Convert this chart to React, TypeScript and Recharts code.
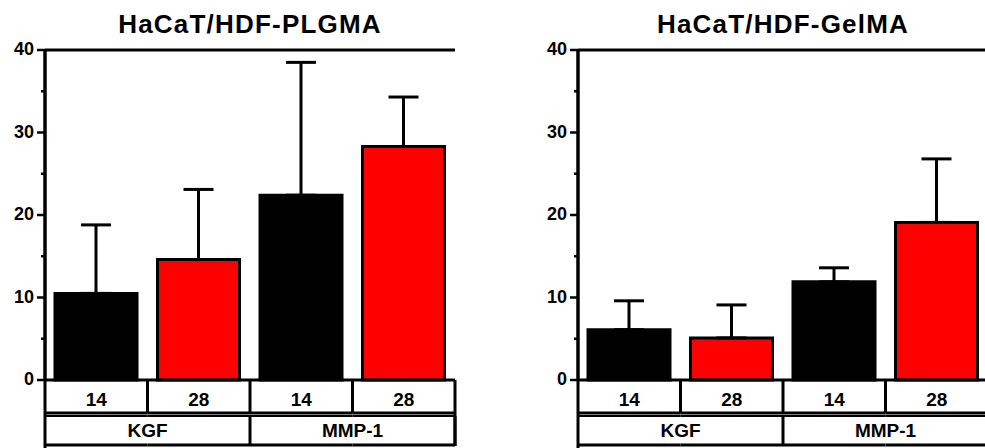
import { Bar, BarChart, Cell, ErrorBar, ReferenceLine, XAxis, YAxis } from "recharts";

const days = ["14", "28", "14", "28"];
const groups = ["KGF", "KGF", "MMP-1", "MMP-1"];
const barColors = ["#000000", "#ff0000", "#000000", "#ff0000"];

const plgmaMean = [10.5, 14.6, 22.4, 28.3];
const plgmaSd = [8.3, 8.5, 16.1, 6.0];
const gelmaMean = [6.1, 5.1, 11.9, 19.1];
const gelmaSd = [3.5, 4.0, 1.7, 7.7];

const yTicks = [0, 5, 10, 15, 20, 25, 30, 35, 40];

const FONT = '"Liberation Sans", Arial, sans-serif';
const CHART_W = 470;
const CHART_H = 448;
const AXIS_W = 45;
const RIGHT_M = 15;
const PLOT_W = CHART_W - AXIS_W - RIGHT_M;
const BAND = PLOT_W / days.length;

function buildRows(mean: number[], sd: number[]) {
  return days.map((d, i) => ({ day: d, group: groups[i], value: mean[i], err: [0, sd[i]] }));
}

function YTick({ x, y, payload }: any) {
  const major = payload.value % 10 === 0;
  return (
    <g>
      <line x1={x - (major ? 8 : 4)} x2={x} y1={y} y2={y} stroke="#000" strokeWidth={2.5} />
      {major && (
        <text x={x - 11} y={y + 5} textAnchor="end" fontFamily={FONT} fontWeight="bold" fontSize={18} fill="#000">
          {payload.value}
        </text>
      )}
    </g>
  );
}

function XTick({ x, y, payload, index }: any) {
  const left = x - BAND / 2;
  const right = x + BAND / 2;
  const last = index === days.length - 1;
  const groupStart = index === 0 || groups[index] !== groups[index - 1];
  const groupEnd = last || groups[index] !== groups[index + 1];
  const sw = 3;
  return (
    <g>
      <text x={x} y={y + 26} textAnchor="middle" fontFamily={FONT} fontWeight="bold" fontSize={19} fill="#000">
        {payload.value}
      </text>
      <line x1={left} x2={right} y1={y + 33} y2={y + 33} stroke="#000" strokeWidth={sw} />
      <line x1={left} x2={right} y1={y + 36} y2={y + 36} stroke="#000" strokeWidth={2} />
      <line x1={left} x2={right} y1={y + 65} y2={y + 65} stroke="#000" strokeWidth={sw} />
      {!last && <line x1={right} x2={right} y1={y} y2={y + 33} stroke="#000" strokeWidth={sw} />}
      {index === 0 && <line x1={left} x2={left} y1={y} y2={y + 68} stroke="#000" strokeWidth={sw} />}
      {groupEnd && <line x1={right} x2={right} y1={y + 36} y2={y + 66} stroke="#000" strokeWidth={sw} />}
      {last && <line x1={right} x2={right} y1={y} y2={y + 66} stroke="#000" strokeWidth={sw} />}
      {groupStart && (
        <text x={right} y={y + 57} textAnchor="middle" fontFamily={FONT} fontWeight="bold" fontSize={19} fill="#000">
          {groups[index]}
        </text>
      )}
    </g>
  );
}

function Panel({ title, mean, sd, left }: { title: string; mean: number[]; sd: number[]; left: number }) {
  const data = buildRows(mean, sd);
  return (
    <div style={{ position: "absolute", left, top: 0, width: CHART_W, height: CHART_H }}>
      <div
        style={{
          position: "absolute",
          left: AXIS_W,
          width: PLOT_W,
          top: 11,
          textAlign: "center",
          fontFamily: FONT,
          fontWeight: "bold",
          fontSize: 26,
          lineHeight: "26px",
          letterSpacing: 1.2,
        }}
      >
        {title}
      </div>
      <BarChart width={CHART_W} height={CHART_H} data={data} margin={{ top: 50, right: RIGHT_M, bottom: 0, left: 0 }} barSize={82}>
        <XAxis
          dataKey="day"
          height={68}
          tickSize={0}
          tickMargin={0}
          interval={0}
          axisLine={{ stroke: "#000", strokeWidth: 3 }}
          tick={<XTick />}
        />
        <YAxis
          type="number"
          domain={[0, 40]}
          ticks={yTicks}
          interval={0}
          width={AXIS_W}
          tickSize={0}
          tickMargin={0}
          axisLine={{ stroke: "#000", strokeWidth: 3.5 }}
          tick={<YTick />}
        />
        <YAxis
          yAxisId="r"
          orientation="right"
          type="number"
          domain={[0, 40]}
          width={0}
          tick={false}
          tickLine={false}
          axisLine={{ stroke: "#000", strokeWidth: 3 }}
        />
        <ReferenceLine y={40} stroke="#000" strokeWidth={3} />
        <Bar dataKey="value" stroke="#000" strokeWidth={3} isAnimationActive={false}>
          {data.map((_, i) => (
            <Cell key={i} fill={barColors[i]} />
          ))}
          <ErrorBar dataKey="err" direction="y" width={15} stroke="#000" strokeWidth={3} />
        </Bar>
      </BarChart>
    </div>
  );
}

export default function App() {
  return (
    <div style={{ position: "absolute", left: 0, top: 0, width: 985, height: 448, overflow: "hidden", background: "#fff" }}>
      <Panel title="HaCaT/HDF-PLGMA" mean={plgmaMean} sd={plgmaSd} left={0} />
      <Panel title="HaCaT/HDF-GelMA" mean={gelmaMean} sd={gelmaSd} left={533} />
    </div>
  );
}
